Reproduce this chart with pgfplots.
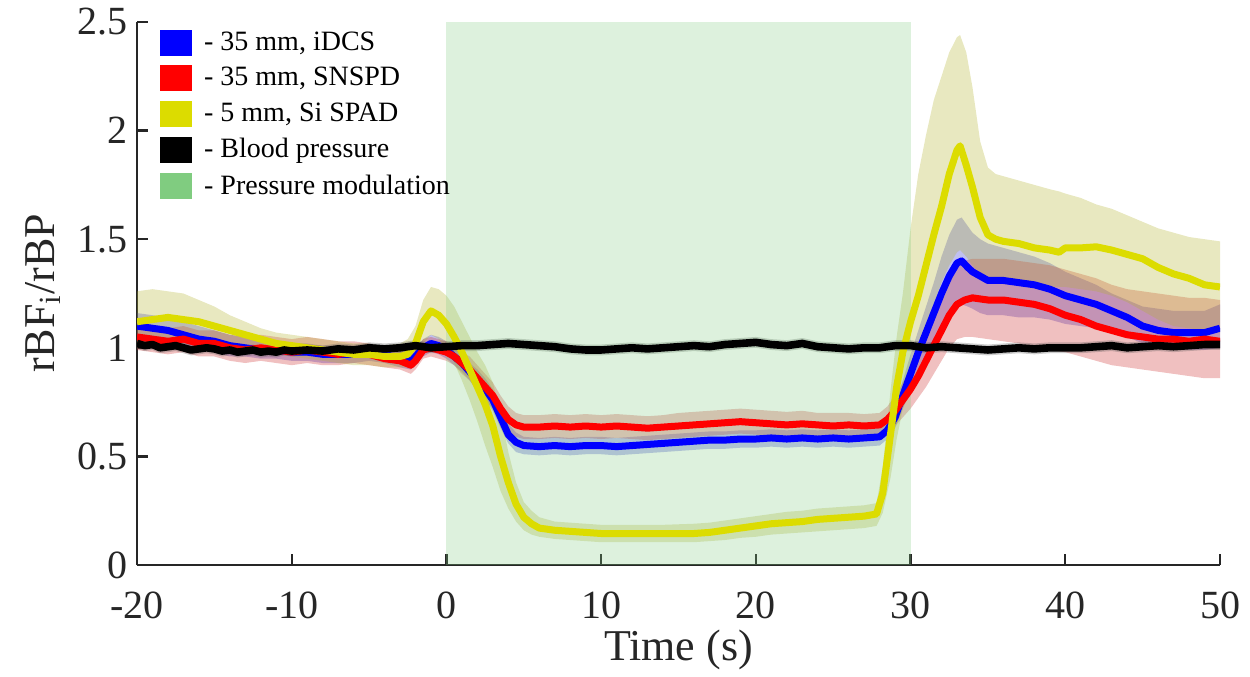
\documentclass[border=0pt]{standalone}
\usepackage{fontspec}
\setmainfont{Liberation Serif}
\usepackage{pgfplots}
\pgfplotsset{compat=1.18}
\usepackage{pgfplotstable}
\usepgfplotslibrary{fillbetween}
\definecolor{axgray}{HTML}{262626}
\definecolor{cblue}{HTML}{0000FF}
\definecolor{cred}{HTML}{FF0000}
\definecolor{cyel}{HTML}{DCDC00}
\definecolor{bblue}{HTML}{2D2DCD}
\definecolor{bred}{HTML}{CD2D2D}
\definecolor{byel}{HTML}{B2B22D}
\definecolor{bblack}{HTML}{555555}
\definecolor{cgreen}{HTML}{80CC80}

\pgfplotstableread{
x m lo hi
-20 1.10 1.05 1.16
-19 1.09 1.04 1.15
-18 1.08 1.03 1.14
-17 1.06 1.01 1.12
-16 1.04 0.99 1.10
-15 1.03 0.98 1.08
-14 1.01 0.96 1.06
-13 1.00 0.96 1.05
-12 0.99 0.95 1.04
-11 0.99 0.95 1.03
-10 0.98 0.94 1.02
-9 0.98 0.94 1.02
-8 0.97 0.93 1.01
-7 0.97 0.93 1.01
-6 0.97 0.93 1.01
-5 0.98 0.94 1.02
-4 0.97 0.93 1.01
-3 0.95 0.91 0.99
-2.3 0.94 0.90 0.98
-2 0.96 0.92 1.00
-1.5 1.00 0.96 1.04
-1 1.02 0.98 1.06
-0.5 1.01 0.97 1.05
0 0.99 0.95 1.03
0.5 0.96 0.92 1.00
1 0.93 0.89 0.97
1.5 0.89 0.85 0.93
2 0.85 0.80 0.90
2.5 0.81 0.76 0.86
3 0.76 0.71 0.81
3.5 0.68 0.63 0.73
4 0.60 0.56 0.65
4.5 0.565 0.52 0.61
5 0.55 0.51 0.59
6 0.545 0.505 0.585
7 0.55 0.51 0.59
8 0.545 0.505 0.585
9 0.55 0.51 0.59
10 0.55 0.51 0.59
11 0.545 0.505 0.585
12 0.55 0.51 0.59
13 0.555 0.515 0.595
14 0.56 0.52 0.60
15 0.565 0.525 0.605
16 0.57 0.53 0.61
17 0.575 0.535 0.615
18 0.575 0.535 0.615
19 0.58 0.54 0.62
20 0.58 0.54 0.62
21 0.585 0.545 0.625
22 0.58 0.54 0.62
23 0.585 0.545 0.625
24 0.58 0.54 0.62
25 0.585 0.545 0.625
26 0.58 0.54 0.62
27 0.585 0.545 0.625
28 0.59 0.55 0.63
28.5 0.62 0.58 0.67
29 0.68 0.63 0.74
29.5 0.78 0.72 0.85
30 0.88 0.80 0.97
30.5 0.98 0.88 1.08
31 1.07 0.95 1.19
31.5 1.16 1.02 1.30
32 1.25 1.08 1.42
32.5 1.33 1.14 1.52
33 1.39 1.20 1.59
33.3 1.40 1.20 1.60
33.7 1.37 1.19 1.56
34 1.35 1.18 1.53
34.5 1.33 1.16 1.50
35 1.31 1.15 1.48
36 1.31 1.15 1.46
37 1.30 1.14 1.44
38 1.29 1.14 1.42
39 1.27 1.13 1.39
40 1.24 1.11 1.35
41 1.22 1.10 1.32
42 1.20 1.09 1.29
43 1.17 1.07 1.25
44 1.14 1.05 1.22
45 1.10 1.02 1.19
46 1.08 1.00 1.18
47 1.07 0.99 1.17
48 1.07 0.99 1.17
49 1.07 0.99 1.17
50 1.09 1.00 1.20
}\bluedata

\pgfplotstableread{
x m lo hi
-20 1.05 0.99 1.10
-19 1.04 0.98 1.10
-18 1.03 0.97 1.09
-17 1.04 0.98 1.10
-16 1.02 0.96 1.08
-15 1.02 0.96 1.08
-14 1.00 0.94 1.06
-13 0.99 0.93 1.05
-12 1.00 0.94 1.06
-11 0.99 0.93 1.05
-10 0.98 0.92 1.04
-9 0.99 0.93 1.05
-8 0.98 0.92 1.04
-7 0.97 0.92 1.03
-6 0.98 0.93 1.03
-5 0.97 0.92 1.02
-4 0.95 0.91 1.00
-3 0.94 0.90 0.99
-2.3 0.92 0.88 0.97
-2 0.94 0.90 0.99
-1.5 0.99 0.95 1.04
-1 1.00 0.96 1.05
-0.5 0.99 0.95 1.04
0 0.98 0.94 1.03
0.5 0.96 0.92 1.01
1 0.93 0.88 0.98
1.5 0.90 0.85 0.96
2 0.86 0.80 0.92
2.5 0.82 0.76 0.88
3 0.78 0.72 0.84
3.5 0.72 0.66 0.78
4 0.67 0.61 0.73
4.5 0.645 0.59 0.70
5 0.635 0.58 0.69
6 0.635 0.58 0.69
7 0.64 0.585 0.695
8 0.635 0.58 0.69
9 0.64 0.585 0.695
10 0.635 0.58 0.69
11 0.64 0.585 0.695
12 0.635 0.58 0.69
13 0.63 0.575 0.685
14 0.635 0.58 0.69
15 0.64 0.585 0.70
16 0.645 0.59 0.705
17 0.65 0.595 0.71
18 0.655 0.60 0.715
19 0.66 0.605 0.72
20 0.655 0.60 0.715
21 0.65 0.595 0.71
22 0.645 0.59 0.705
23 0.65 0.595 0.71
24 0.645 0.59 0.70
25 0.64 0.585 0.70
26 0.645 0.59 0.70
27 0.64 0.585 0.695
28 0.645 0.59 0.70
28.5 0.67 0.61 0.73
29 0.71 0.64 0.78
29.5 0.76 0.68 0.84
30 0.81 0.72 0.90
30.5 0.87 0.77 0.97
31 0.94 0.82 1.05
31.5 1.01 0.88 1.14
32 1.08 0.94 1.23
32.5 1.15 1.00 1.32
33 1.20 1.04 1.38
33.5 1.22 1.05 1.40
34 1.23 1.05 1.41
35 1.22 1.04 1.41
36 1.22 1.03 1.41
37 1.21 1.02 1.40
38 1.20 1.00 1.39
39 1.18 0.99 1.38
40 1.15 0.98 1.36
41 1.13 0.96 1.34
42 1.10 0.94 1.32
43 1.08 0.92 1.29
44 1.06 0.91 1.27
45 1.05 0.90 1.26
46 1.04 0.89 1.25
47 1.04 0.88 1.24
48 1.03 0.87 1.23
49 1.04 0.86 1.23
50 1.03 0.86 1.22
}\reddata

\pgfplotstableread{
x m lo hi
-20 1.12 1.00 1.26
-19 1.13 1.01 1.27
-18 1.14 1.02 1.26
-17 1.13 1.02 1.25
-16 1.12 1.02 1.22
-15 1.10 1.01 1.19
-14 1.08 1.00 1.15
-13 1.06 0.99 1.12
-12 1.04 0.98 1.09
-11 1.02 0.97 1.07
-10 1.01 0.96 1.06
-9 1.00 0.95 1.05
-8 0.99 0.94 1.04
-7 0.98 0.93 1.03
-6 0.97 0.92 1.02
-5 0.97 0.92 1.02
-4 0.96 0.91 1.01
-3 0.96 0.91 1.02
-2.5 0.97 0.91 1.04
-2 1.02 0.94 1.10
-1.5 1.12 1.02 1.22
-1 1.17 1.06 1.28
-0.5 1.15 1.04 1.27
0 1.11 0.99 1.24
0.5 1.05 0.93 1.19
1 0.98 0.85 1.12
1.5 0.90 0.76 1.05
2 0.82 0.66 0.98
2.5 0.74 0.55 0.92
3 0.64 0.45 0.84
3.5 0.50 0.34 0.70
4 0.38 0.26 0.52
4.5 0.28 0.20 0.38
5 0.22 0.16 0.29
5.5 0.19 0.14 0.25
6 0.17 0.13 0.22
7 0.16 0.12 0.20
8 0.155 0.115 0.195
9 0.15 0.11 0.19
10 0.145 0.105 0.185
12 0.145 0.105 0.185
14 0.145 0.105 0.185
16 0.145 0.105 0.19
17 0.15 0.11 0.195
18 0.16 0.115 0.205
19 0.17 0.125 0.215
20 0.18 0.13 0.225
21 0.19 0.14 0.235
22 0.195 0.145 0.245
23 0.20 0.15 0.25
24 0.21 0.155 0.26
25 0.215 0.16 0.265
26 0.22 0.165 0.27
27 0.225 0.17 0.275
27.8 0.235 0.18 0.285
28.2 0.33 0.24 0.45
28.7 0.60 0.40 0.80
29.1 0.82 0.58 1.05
29.5 0.98 0.72 1.25
30 1.12 0.85 1.55
30.5 1.24 0.98 1.80
31 1.38 1.10 1.98
31.5 1.52 1.20 2.14
32 1.65 1.30 2.25
32.5 1.80 1.38 2.36
33 1.91 1.44 2.43
33.2 1.93 1.45 2.44
33.6 1.84 1.42 2.36
34 1.74 1.38 2.20
34.5 1.60 1.34 1.95
35 1.52 1.32 1.83
35.5 1.50 1.31 1.80
36 1.49 1.31 1.79
37 1.48 1.30 1.77
38 1.46 1.29 1.75
39 1.45 1.28 1.73
39.6 1.44 1.28 1.72
40 1.46 1.28 1.71
41 1.46 1.27 1.69
42 1.465 1.26 1.66
43 1.45 1.24 1.64
44 1.43 1.21 1.61
45 1.41 1.17 1.58
46 1.37 1.13 1.55
47 1.34 1.10 1.53
48 1.32 1.09 1.51
49 1.29 1.08 1.50
50 1.28 1.07 1.49
}\yeldata

\pgfplotstableread{
x m lo hi
-20 1.02 0.995 1.045
-19.5 1.01 0.985 1.035
-19 1.015 0.99 1.04
-18.5 1.00 0.975 1.025
-18 1.005 0.98 1.03
-17.5 1.01 0.985 1.035
-17 1.00 0.975 1.025
-16.5 0.99 0.965 1.015
-16 0.995 0.97 1.02
-15.5 1.00 0.975 1.025
-15 0.995 0.97 1.02
-14.5 0.985 0.96 1.01
-14 0.99 0.965 1.015
-13.5 0.98 0.955 1.005
-13 0.985 0.96 1.01
-12.5 0.99 0.965 1.015
-12 0.98 0.955 1.005
-11.5 0.985 0.96 1.01
-11 0.98 0.955 1.005
-10.5 0.99 0.965 1.015
-10 0.985 0.96 1.01
-9 0.99 0.965 1.015
-8 0.985 0.96 1.01
-7 0.995 0.97 1.02
-6 0.99 0.965 1.015
-5 1.00 0.975 1.025
-4 0.995 0.97 1.02
-3 1.00 0.975 1.025
-2 1.01 0.985 1.035
-1 1.00 0.975 1.025
0 1.005 0.98 1.03
1 1.01 0.985 1.035
2 1.01 0.985 1.035
3 1.015 0.99 1.04
4 1.02 0.995 1.045
5 1.015 0.99 1.04
6 1.01 0.985 1.035
7 1.005 0.98 1.03
8 0.995 0.97 1.02
9 0.99 0.965 1.015
10 0.99 0.965 1.015
11 0.995 0.97 1.02
12 1.00 0.975 1.025
13 0.995 0.97 1.02
14 1.00 0.975 1.025
15 1.005 0.98 1.03
16 1.01 0.985 1.035
17 1.005 0.98 1.03
18 1.015 0.99 1.04
19 1.02 0.995 1.045
20 1.025 1.00 1.05
21 1.015 0.99 1.04
22 1.01 0.985 1.035
23 1.02 0.995 1.045
24 1.005 0.98 1.03
25 1.00 0.975 1.025
26 0.995 0.97 1.02
27 1.00 0.975 1.025
28 1.00 0.975 1.025
29 1.01 0.985 1.035
30 1.01 0.985 1.035
31 1.00 0.975 1.025
32 1.005 0.98 1.03
33 1.00 0.975 1.025
34 0.995 0.97 1.02
35 0.99 0.965 1.015
36 0.995 0.97 1.02
37 1.00 0.975 1.025
38 0.995 0.97 1.02
39 1.00 0.975 1.025
40 1.00 0.975 1.025
41 1.00 0.975 1.025
42 1.005 0.98 1.03
43 1.01 0.985 1.035
44 1.00 0.975 1.025
45 1.005 0.98 1.03
46 1.01 0.985 1.035
47 1.005 0.98 1.03
48 1.01 0.985 1.035
49 1.015 0.99 1.04
50 1.015 0.99 1.04
}\blackdata

\begin{document}
\begin{tikzpicture}
\begin{axis}[
  scale only axis,
  width=541.5pt, height=271.5pt,
  xmin=-20, xmax=50, ymin=0, ymax=2.5,
  xtick={-20,-10,...,50},
  ytick={0,0.5,1,1.5,2,2.5},
  axis x line*=bottom, axis y line*=left,
  axis line style={axgray, line width=1.2pt},
  tick style={axgray, line width=1.2pt},
  tick align=inside,
  major tick length=5.5pt,
  /pgf/number format/assume math mode=true,
  tick label style={font=\fontsize{20}{24}\selectfont, text=axgray},
  xticklabel style={yshift=-10pt},
  yticklabel style={xshift=-1pt},
  xlabel={Time (s)},
  ylabel={rBF\textsubscript{i}/rBP},
  every axis x label/.style={at={(axis description cs:0.5,-0.157)}, anchor=center, font=\fontsize{22}{26}\selectfont, text=axgray},
  every axis y label/.style={at={(axis description cs:-0.087,0.5)}, rotate=90, anchor=center, font=\fontsize{22}{26}\selectfont, text=axgray},
  legend style={at={(axis description cs:0.021,0.99)}, anchor=north west, draw=none, fill=none,
    font=\fontsize{14}{16}\selectfont, row sep=3pt, inner sep=0pt,
    nodes={inner sep=2pt}},
  legend cell align=left,
  legend image code/.code={\fill[#1, draw=none] (0pt,-6.5pt) rectangle (16pt,6.5pt);},
  /tikz/every even column/.append style={column sep=0pt},
  clip=true,
]
\addlegendimage{fill=cblue}
\addlegendentry{\hspace{4pt}- 35 mm, iDCS}
\addlegendimage{fill=cred}
\addlegendentry{\hspace{4pt}- 35 mm, SNSPD}
\addlegendimage{fill=cyel}
\addlegendentry{\hspace{4pt}- 5 mm, Si SPAD}
\addlegendimage{fill=black}
\addlegendentry{\hspace{4pt}- Blood pressure}
\addlegendimage{fill=cgreen}
\addlegendentry{\hspace{4pt}- Pressure modulation}

% pressure modulation window
\addplot[draw=none, fill=cgreen, fill opacity=0.27, forget plot] coordinates {(0,0) (0,2.5) (30,2.5) (30,0)} -- cycle;

% blue
\addplot[name path=bhi, draw=none, forget plot] table[x=x,y=hi]{\bluedata};
\addplot[name path=blo, draw=none, forget plot] table[x=x,y=lo]{\bluedata};
\addplot[fill=bblue, fill opacity=0.3, draw=none, forget plot] fill between[of=bhi and blo];
\addplot[cblue, line width=3.5pt, line join=round, forget plot] table[x=x,y=m]{\bluedata};
% red
\addplot[name path=rhi, draw=none, forget plot] table[x=x,y=hi]{\reddata};
\addplot[name path=rlo, draw=none, forget plot] table[x=x,y=lo]{\reddata};
\addplot[fill=bred, fill opacity=0.3, draw=none, forget plot] fill between[of=rhi and rlo];
\addplot[cred, line width=3.5pt, line join=round, forget plot] table[x=x,y=m]{\reddata};
% yellow
\addplot[name path=yhi, draw=none, forget plot] table[x=x,y=hi]{\yeldata};
\addplot[name path=ylo, draw=none, forget plot] table[x=x,y=lo]{\yeldata};
\addplot[fill=byel, fill opacity=0.3, draw=none, forget plot] fill between[of=yhi and ylo];
\addplot[cyel, line width=3.5pt, line join=round, forget plot] table[x=x,y=m]{\yeldata};
% black
\addplot[name path=khi, draw=none, forget plot] table[x=x,y=hi]{\blackdata};
\addplot[name path=klo, draw=none, forget plot] table[x=x,y=lo]{\blackdata};
\addplot[fill=bblack, fill opacity=0.3, draw=none, forget plot] fill between[of=khi and klo];
\addplot[black, line width=3.8pt, line join=round, forget plot] table[x=x,y=m]{\blackdata};
\end{axis}
\path (current axis.south west) ++(-68.5pt,-54pt) coordinate (bbl);
\path (current axis.north east) ++(15pt,11pt) coordinate (bbr);
\path (bbl) rectangle (bbr);
\end{tikzpicture}
\end{document}
